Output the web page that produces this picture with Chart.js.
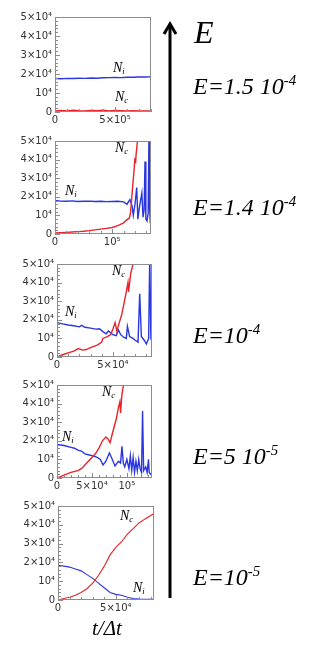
<!DOCTYPE html>
<html>
<head>
<meta charset="utf-8">
<script src="https://cdn.jsdelivr.net/npm/chart.js@4.4.1/dist/chart.umd.min.js"></script>
<style>
  html, body { margin:0; padding:0; background:#fff; }
  #page { position:relative; width:315px; height:646px; overflow:hidden; background:#fff; }
  canvas { position:absolute; left:0; }
  .lbl { position:absolute; font-family:"Liberation Serif", serif; font-style:italic; color:#000; white-space:nowrap; line-height:1; }
  .lbl sub { font-size:0.62em; vertical-align:-0.28em; line-height:0; }
  .lbl sup { font-size:0.62em; vertical-align:0.62em; line-height:0; }
  .nl { font-size:14px; }
  .el { font-size:24px; }
</style>
</head>
<body>
<div id="page">
  <svg width="315" height="646" style="position:absolute;left:0;top:0">
    <line x1="170" y1="25" x2="170" y2="598" stroke="#000" stroke-width="3"/>
    <polyline points="164,34 170,24 176,34" fill="none" stroke="#000" stroke-width="3"/>
  </svg>
  <div class="lbl" style="left:194px;top:16px;font-size:32px">E</div>
  <div class="lbl el" style="left:193px;top:74px">E=1.5 10<sup>-4</sup></div>
  <div class="lbl el" style="left:193px;top:195px">E=1.4 10<sup>-4</sup></div>
  <div class="lbl el" style="left:193px;top:323px">E=10<sup>-4</sup></div>
  <div class="lbl el" style="left:193px;top:444px">E=5 10<sup>-5</sup></div>
  <div class="lbl el" style="left:193px;top:565px">E=10<sup>-5</sup></div>
  <div class="lbl" style="left:92px;top:618px;font-size:21px">t/Δt</div>
</div>
<script>
// ---- tick labels ----
const yTickValues = [0, 1e4, 2e4, 3e4, 4e4, 5e4];
const yTickLabels = ['0', '10⁴', '2×10⁴', '3×10⁴', '4×10⁴', '5×10⁴'];

// ---- E = 1.5e-4 ----
const p1XTicks = [0, 5e5];
const p1XLabels = ['0', '5×10⁵'];
const p1NiT = [0, 5e4, 1e5, 1.5e5, 2e5, 2.5e5, 3e5, 3.5e5, 4e5, 4.5e5, 5e5, 5.5e5, 6e5, 6.5e5, 7e5, 7.5e5, 8e5];
const p1Ni  = [1.76e4, 1.75e4, 1.77e4, 1.76e4, 1.78e4, 1.77e4, 1.79e4, 1.78e4, 1.8e4, 1.81e4, 1.82e4, 1.81e4, 1.83e4, 1.83e4, 1.84e4, 1.84e4, 1.85e4];
const p1NcT = [0, 5e4, 1e5, 1.5e5, 2e5, 2.5e5, 3e5, 3.5e5, 4e5, 4.5e5, 5e5, 5.5e5, 6e5, 6.5e5, 7e5, 7.5e5, 8e5];
const p1Nc  = [500, 800, 600, 900, 700, 600, 800, 700, 900, 600, 800, 700, 600, 700, 600, 500, 600];

// ---- E = 1.4e-4 ----
const p2XTicks = [0, 1e5];
const p2XLabels = ['0', '10⁵'];
const p2NiT = [0, 1e4, 2e4, 3e4, 4e4, 5e4, 6e4, 7e4, 8e4, 9e4, 1e5, 1.1e5, 1.2e5, 1.26e5, 1.31e5, 1.35e5, 1.37e5, 1.4e5, 1.43e5, 1.45e5, 1.48e5, 1.52e5, 1.54e5, 1.56e5, 1.575e5, 1.59e5, 1.61e5, 1.63e5, 1.645e5, 1.655e5, 1.665e5, 1.68e5];
const p2Ni  = [1.8e4, 1.77e4, 1.76e4, 1.78e4, 1.75e4, 1.76e4, 1.77e4, 1.75e4, 1.76e4, 1.74e4, 1.75e4, 1.76e4, 1.73e4, 1.6e4, 1.85e4, 1.5e4, 1.0e4, 1.6e4, 2.5e4, 8e3, 1.5e4, 2.2e4, 9e3, 1.3e4, 3.9e4, 8e3, 7e3, 1.1e4, 5.5e4, 1.4e4, 8e3, 1.0e4];
const p2NcT = [0, 1e4, 2e4, 3e4, 4e4, 5e4, 6e4, 7e4, 8e4, 9e4, 1e5, 1.1e5, 1.2e5, 1.25e5, 1.3e5, 1.32e5, 1.34e5, 1.36e5, 1.38e5, 1.4e5, 1.41e5, 1.42e5, 1.45e5, 1.48e5];
const p2Nc  = [500, 700, 900, 1100, 1300, 1500, 1800, 2200, 2600, 3000, 3500, 4500, 6000, 7500, 8500, 1.1e4, 1.8e4, 2.6e4, 3.3e4, 4.1e4, 3.8e4, 4.3e4, 5.2e4, 6.0e4];

// ---- E = 1e-4 ----
const p3XTicks = [0, 5e4];
const p3XLabels = ['0', '5×10⁴'];
const p3NiT = [0, 5e3, 1e4, 1.5e4, 2e4, 2.2e4, 2.5e4, 3e4, 3.5e4, 3.8e4, 4e4, 4.2e4, 4.4e4, 4.6e4, 4.8e4, 5e4, 5.3e4, 5.5e4, 5.7e4, 6e4, 6.2e4, 6.3e4, 6.5e4, 6.8e4, 7e4, 7.25e4, 7.4e4, 7.55e4, 7.8e4, 8e4, 8.2e4, 8.3e4, 8.4e4, 8.5e4];
const p3Ni  = [1.85e4, 1.78e4, 1.72e4, 1.68e4, 1.62e4, 1.7e4, 1.6e4, 1.55e4, 1.5e4, 1.52e4, 1.42e4, 1.32e4, 1.25e4, 1.4e4, 1.3e4, 1.2e4, 1.15e4, 1.45e4, 1.2e4, 1.05e4, 1.0e4, 1.65e4, 1.1e4, 1.0e4, 9e3, 8e3, 3.4e4, 1.1e4, 9e3, 7e3, 1.0e4, 5.5e4, 1e4, 8e3];
const p3NcT = [0, 5e3, 1e4, 1.5e4, 1.9e4, 2.3e4, 2.6e4, 3e4, 3.6e4, 4e4, 4.1e4, 4.5e4, 4.8e4, 5e4, 5.2e4, 5.35e4, 5.5e4, 5.8e4, 6e4, 6.2e4, 6.35e4, 6.4e4, 6.6e4, 6.8e4, 7e4];
const p3Nc  = [0, 1200, 2200, 3200, 4500, 3700, 4000, 5000, 6400, 8000, 1.0e4, 1.1e4, 1.2e4, 1.5e4, 1.85e4, 1.4e4, 1.7e4, 2.3e4, 2.9e4, 3.5e4, 4.0e4, 3.5e4, 4.5e4, 5.0e4, 5.8e4];

// ---- E = 5e-5 ----
const p4XTicks = [0, 5e4, 1e5];
const p4XLabels = ['0', '5×10⁴', '10⁵'];
const p4NiT = [0, 1e4, 2e4, 2.5e4, 3e4, 3.5e4, 4e4, 4.5e4, 5e4, 5.5e4, 5.8e4, 6.2e4, 6.6e4, 7e4, 7.5e4, 7.8e4, 8.3e4, 8.8e4, 9.1e4, 9.3e4, 9.5e4, 9.7e4, 1.0e5, 1.03e5, 1.05e5, 1.07e5, 1.09e5, 1.11e5, 1.13e5, 1.15e5, 1.17e5, 1.19e5, 1.21e5, 1.225e5, 1.24e5, 1.27e5, 1.29e5, 1.31e5, 1.32e5, 1.34e5, 1.36e5];
const p4Ni  = [1.8e4, 1.75e4, 1.65e4, 1.6e4, 1.5e4, 1.45e4, 1.3e4, 1.25e4, 1.2e4, 1.15e4, 1.1e4, 1.0e4, 7e3, 9e3, 1.35e4, 1.1e4, 6.5e3, 9e3, 8e3, 1.7e4, 8e3, 6e3, 1.0e4, 5e3, 1.2e4, 4e3, 1.1e4, 3e3, 9e3, 4e3, 1.0e4, 5e3, 3e3, 3.6e4, 4e3, 6e3, 3e3, 1.0e4, 3e3, 2e3, 1.5e3];
const p4NcT = [0, 1e4, 2e4, 3e4, 3.5e4, 4e4, 4.5e4, 5e4, 5.5e4, 6e4, 6.5e4, 7e4, 7.3e4, 7.6e4, 8e4, 8.5e4, 8.8e4, 9e4, 9.1e4, 9.3e4, 9.6e4, 1e5];
const p4Nc  = [0, 1500, 3000, 4000, 5000, 7000, 9000, 1.1e4, 1.3e4, 1.6e4, 2.0e4, 2.2e4, 2.1e4, 1.9e4, 2.5e4, 3.2e4, 3.8e4, 4.1e4, 3.5e4, 4.5e4, 5.2e4, 6e4];

// ---- E = 1e-5 ----
const p5XTicks = [0, 5e4];
const p5XLabels = ['0', '5×10⁴'];
const p5NiT = [0, 5e3, 1e4, 1.5e4, 2e4, 2.5e4, 3e4, 3.5e4, 4e4, 4.5e4, 5e4, 5.5e4, 6e4, 6.5e4, 7e4, 7.5e4, 8.3e4];
const p5Ni  = [1.85e4, 1.8e4, 1.75e4, 1.65e4, 1.55e4, 1.35e4, 1.15e4, 9e3, 6.5e3, 4e3, 3e3, 2.5e3, 1.5e3, 800, 500, 400, 400];
const p5NcT = [0, 5e3, 1e4, 1.5e4, 2e4, 2.5e4, 3e4, 3.5e4, 4e4, 4.5e4, 5e4, 5.5e4, 6e4, 6.5e4, 7e4, 7.5e4, 8.3e4];
const p5Nc  = [0, 800, 1500, 2500, 4000, 6000, 9000, 1.3e4, 1.8e4, 2.4e4, 2.8e4, 3.1e4, 3.5e4, 3.8e4, 4.1e4, 4.3e4, 4.6e4];

// ---- panel layout (plot box edges in page pixels) ----
const panels = [
  { box:[55, 16, 151, 112],  xmax:8e5,    minor:1e5, xt:p1XTicks, xl:p1XLabels, ni:[p1NiT, p1Ni], nc:[p1NcT, p1Nc], lw:1.4,
    labels:[['i', 113, 63], ['c', 115, 92]] },
  { box:[55, 140, 151, 234], xmax:1.68e5, minor:2e4, xt:p2XTicks, xl:p2XLabels, ni:[p2NiT, p2Ni], nc:[p2NcT, p2Nc], lw:1.4,
    labels:[['c', 115, 143], ['i', 65, 186]] },
  { box:[57, 263, 152, 357], xmax:8.5e4,  minor:1e4, xt:p3XTicks, xl:p3XLabels, ni:[p3NiT, p3Ni], nc:[p3NcT, p3Nc], lw:1.4,
    labels:[['c', 112, 266], ['i', 65, 307]] },
  { box:[57, 384, 152, 478], xmax:1.36e5, minor:1e4, xt:p4XTicks, xl:p4XLabels, ni:[p4NiT, p4Ni], nc:[p4NcT, p4Nc], lw:1.4,
    labels:[['c', 102, 387], ['i', 62, 432]] },
  { box:[58, 505, 154, 600], xmax:8.3e4,  minor:1e4, xt:p5XTicks, xl:p5XLabels, ni:[p5NiT, p5Ni], nc:[p5NcT, p5Nc], lw:1.1,
    labels:[['c', 120, 511], ['i', 133, 583]] }
];

const zip = (t, v) => t.map((x, i) => ({ x: x, y: v[i] }));

// box + inward ticks, drawn from the chart's own scales
const framePlugin = {
  id: 'frame',
  afterDatasetsDraw(chart, args, opts) {
    const { ctx, chartArea: a, scales: { x, y } } = chart;
    ctx.save();
    ctx.strokeStyle = '#8c8c8c';
    ctx.lineWidth = 1;
    ctx.strokeRect(Math.round(a.left) + 0.5, Math.round(a.top) + 0.5, Math.round(a.right - a.left) - 1, Math.round(a.bottom - a.top) - 1);
    ctx.beginPath();
    for (let v = 0; v <= 5e4; v += 2e3) {
      const py = Math.round(y.getPixelForValue(v)) + 0.5;
      const len = v % 1e4 === 0 ? 5 : 3;
      ctx.moveTo(a.left, py); ctx.lineTo(a.left + len, py);
    }
    for (let v = 0; v <= opts.xmax; v += opts.minor) {
      const px = Math.round(x.getPixelForValue(v)) + 0.5;
      const len = opts.major.includes(v) ? 5 : 3;
      ctx.moveTo(px, a.bottom); ctx.lineTo(px, a.bottom - len);
    }
    ctx.stroke();
    ctx.restore();
  }
};

const page = document.getElementById('page');
const tickFont = { family: 'DejaVu Sans', size: 10 };

panels.forEach(p => {
  const [L, T, R, B] = p.box;
  const cv = document.createElement('canvas');
  const W = 160, padTop = 8, xh = 20;
  cv.width = W; cv.height = (B - T) + padTop + xh;
  cv.style.top = (T - padTop) + 'px';
  page.insertBefore(cv, page.firstChild.nextSibling);

  new Chart(cv, {
    type: 'line',
    data: {
      datasets: [
        { data: zip(p.nc[0], p.nc[1]), borderColor: '#e8242a', borderWidth: p.lw, pointRadius: 0, tension: 0 },
        { data: zip(p.ni[0], p.ni[1]), borderColor: '#2a36e0', borderWidth: p.lw, pointRadius: 0, tension: 0 }
      ]
    },
    plugins: [framePlugin],
    options: {
      responsive: false,
      animation: false,
      devicePixelRatio: 1,
      layout: { padding: { top: padTop, right: W - R, left: 0, bottom: 0 } },
      plugins: {
        legend: { display: false },
        tooltip: { enabled: false },
        frame: { xmax: p.xmax, minor: p.minor, major: p.xt }
      },
      scales: {
        x: {
          type: 'linear', min: 0, max: p.xmax,
          grid: { display: false, drawTicks: false },
          border: { display: false },
          afterBuildTicks: s => { s.ticks = p.xt.map(v => ({ value: v })); },
          afterFit: s => { s.height = xh; },
          ticks: { font: tickFont, color: '#333', padding: 2, maxRotation: 0, autoSkip: false,
                   callback: (v, i) => p.xl[i] }
        },
        y: {
          min: 0, max: 5e4,
          grid: { display: false, drawTicks: false },
          border: { display: false },
          afterBuildTicks: s => { s.ticks = yTickValues.map(v => ({ value: v })); },
          afterFit: s => { s.width = L; },
          ticks: { font: tickFont, color: '#333', padding: 3, autoSkip: false,
                   callback: (v, i) => yTickLabels[i] }
        }
      }
    }
  });

  p.labels.forEach(([sub, lx, ly]) => {
    const d = document.createElement('div');
    d.className = 'lbl nl';
    d.style.left = lx + 'px';
    d.style.top = (ly - 2) + 'px';
    d.innerHTML = 'N<sub>' + sub + '</sub>';
    page.appendChild(d);
  });
});
</script>
</body>
</html>
